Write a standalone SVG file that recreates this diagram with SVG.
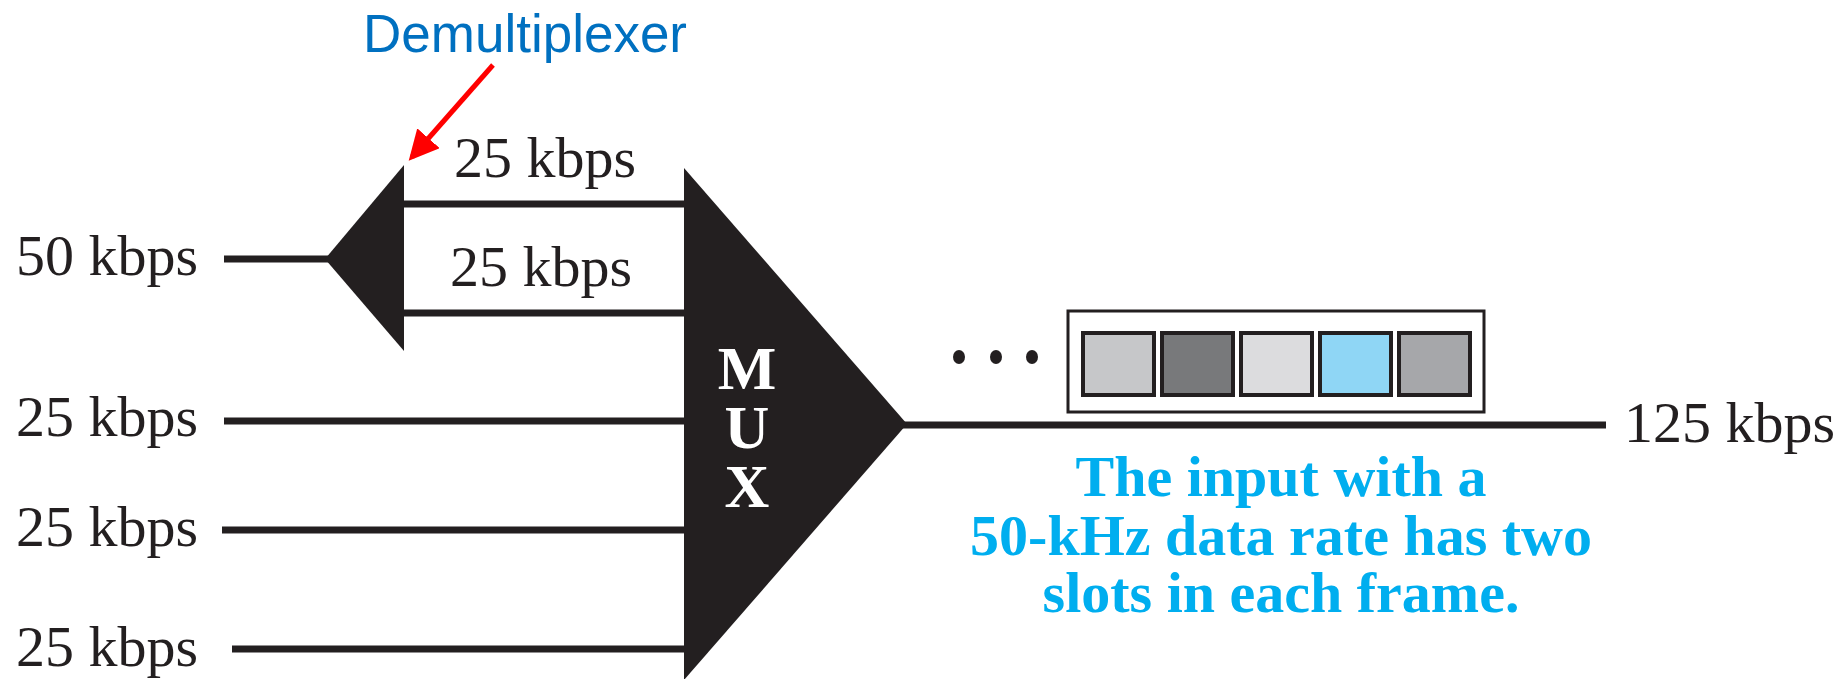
<svg xmlns="http://www.w3.org/2000/svg" width="1848" height="679" viewBox="0 0 1848 679">
<style>
.lbl{font-family:"Liberation Serif","Times New Roman",serif;font-size:58px;fill:#231f20}
.mux{font-family:"Liberation Serif","Times New Roman",serif;font-size:62px;font-weight:bold;fill:#ffffff;text-anchor:middle}
.note{font-family:"Liberation Serif","Times New Roman",serif;font-size:58px;font-weight:bold;fill:#00aeef;text-anchor:middle}
.demux{font-family:"Liberation Sans",Arial,sans-serif;font-size:53px;fill:#0070c0}
.wire{stroke:#231f20;stroke-width:7;fill:none}
.slot{stroke:#231f20;stroke-width:4}
</style>
<defs>
<marker id="redhead" markerWidth="6" markerHeight="6" refX="5" refY="3" orient="auto" markerUnits="strokeWidth">
<path d="M0,0 L6,3 L0,6 Z" fill="#ff0000"/>
</marker>
</defs>
<g id="connectors">
<line class="wire" x1="224" y1="259" x2="330" y2="259"/>
<line class="wire" x1="400" y1="204" x2="688" y2="204"/>
<line class="wire" x1="400" y1="313" x2="688" y2="313"/>
<line class="wire" x1="224" y1="421" x2="688" y2="421"/>
<line class="wire" x1="222" y1="530" x2="688" y2="530"/>
<line class="wire" x1="232" y1="649" x2="688" y2="649"/>
<line class="wire" x1="900" y1="425" x2="1606" y2="425"/>
<line x1="493" y1="65" x2="412" y2="157" stroke="#ff0000" stroke-width="5" marker-end="url(#redhead)"/>
</g>
<g id="demux">
<polygon points="325,259 404,165 404,351" fill="#231f20"/>
</g>
<g id="mux">
<polygon points="684,168 907,424 684,680" fill="#231f20"/>
<text class="mux"><tspan x="747" y="389">M</tspan><tspan x="747" y="448">U</tspan><tspan x="747" y="507">X</tspan></text>
</g>
<g id="frame">
<rect x="1068" y="311" width="416" height="101" fill="#ffffff" stroke="#231f20" stroke-width="3"/>
<rect class="slot" x="1083" y="333" width="71" height="62" fill="#c6c7c9"/>
<rect class="slot" x="1162" y="333" width="71" height="62" fill="#78797b"/>
<rect class="slot" x="1241" y="333" width="71" height="62" fill="#dcdcde"/>
<rect class="slot" x="1320" y="333" width="71" height="62" fill="#8fd6f5"/>
<rect class="slot" x="1399" y="333" width="71" height="62" fill="#a6a7aa"/>
</g>
<g id="dots" fill="#231f20">
<ellipse cx="959" cy="357" rx="6" ry="7"/>
<ellipse cx="996" cy="357" rx="6" ry="7"/>
<ellipse cx="1032" cy="357" rx="6" ry="7"/>
</g>
<g id="labels">
<text class="lbl" x="16" y="275">50 kbps</text>
<text class="lbl" x="454" y="177">25 kbps</text>
<text class="lbl" x="450" y="286">25 kbps</text>
<text class="lbl" x="16" y="436">25 kbps</text>
<text class="lbl" x="16" y="546">25 kbps</text>
<text class="lbl" x="16" y="666">25 kbps</text>
<text class="lbl" x="1624" y="442">125 kbps</text>
</g>
<g id="demux-label">
<text class="demux" x="363" y="52">Demultiplexer</text>
</g>
<g id="note">
<text class="note"><tspan x="1281" y="496">The input with a</tspan><tspan x="1281" y="555">50-kHz data rate has two</tspan><tspan x="1281" y="612">slots in each frame.</tspan></text>
</g>
</svg>
